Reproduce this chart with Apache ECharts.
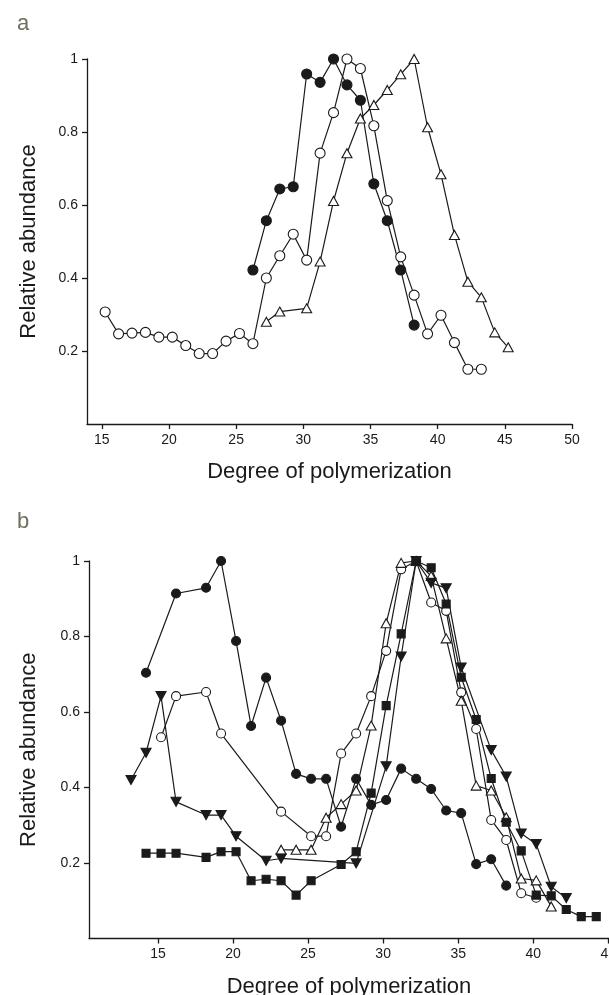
<!DOCTYPE html>
<html>
<head>
<meta charset="utf-8">
<script src="https://cdn.jsdelivr.net/npm/echarts@6/dist/echarts.min.js"></script>
<style>
  html, body { margin: 0; padding: 0; background: #fff; }
  #chart { width: 609px; height: 995px; }
</style>
</head>
<body>
<div id="chart"></div>
<script>
// panel a: [degree of polymerization, relative abundance]
const aOpenCircle = [[15.25,0.307],[16.25,0.247],[17.25,0.249],[18.25,0.251],[19.25,0.238],[20.25,0.238],[21.25,0.215],[22.25,0.193],[23.25,0.193],[24.25,0.227],[25.25,0.248],[26.25,0.22],[27.25,0.40],[28.25,0.461],[29.25,0.52],[30.25,0.449],[31.25,0.742],[32.25,0.853],[33.25,1.0],[34.25,0.974],[35.25,0.817],[36.25,0.612],[37.25,0.458],[38.25,0.353],[39.25,0.247],[40.25,0.298],[41.25,0.223],[42.25,0.15],[43.25,0.15]]
const aFilledCircle = [[26.25,0.422],[27.25,0.557],[28.25,0.644],[29.25,0.65],[30.25,0.959],[31.25,0.936],[32.25,1.0],[33.25,0.929],[34.25,0.887],[35.25,0.658],[36.25,0.557],[37.25,0.422],[38.25,0.271]]
const aTriangle = [[27.25,0.28],[28.25,0.308],[30.25,0.317],[31.25,0.445],[32.25,0.611],[33.25,0.742],[34.25,0.837],[35.25,0.874],[36.25,0.915],[37.25,0.958],[38.25,1.0],[39.25,0.813],[40.25,0.684],[41.25,0.518],[42.25,0.39],[43.25,0.347],[44.25,0.251],[45.25,0.21]]

// panel b
const bFilledCircle = [[14.2,0.704],[16.2,0.914],[18.2,0.929],[19.2,1.0],[20.2,0.788],[21.2,0.563],[22.2,0.691],[23.2,0.577],[24.2,0.436],[25.2,0.423],[26.2,0.423],[27.2,0.296],[28.2,0.423],[29.2,0.354],[30.2,0.367],[31.2,0.45],[32.2,0.423],[33.2,0.396],[34.2,0.339],[35.2,0.332],[36.2,0.197],[37.2,0.21],[38.2,0.14]]
const bOpenCircle = [[15.2,0.533],[16.2,0.642],[18.2,0.653],[19.2,0.543],[23.2,0.336],[25.2,0.271],[26.2,0.271],[27.2,0.49],[28.2,0.543],[29.2,0.642],[30.2,0.762],[31.2,0.978],[32.2,1.0],[33.2,0.89],[34.2,0.868],[35.2,0.652],[36.2,0.555],[37.2,0.314],[38.2,0.261],[39.2,0.12],[40.2,0.108]]
const bTriangle = [[23.2,0.235],[24.2,0.235],[25.2,0.235],[26.2,0.32],[27.2,0.356],[28.2,0.392],[29.2,0.564],[30.2,0.835],[31.2,0.995],[32.2,1.0],[33.2,0.96],[34.2,0.795],[35.2,0.63],[36.2,0.405],[37.2,0.392],[38.2,0.321],[39.2,0.159],[40.2,0.154],[41.2,0.085]]
const bSquare = [[14.2,0.226],[15.2,0.226],[16.2,0.226],[18.2,0.215],[19.2,0.23],[20.2,0.23],[21.2,0.153],[22.2,0.157],[23.2,0.153],[24.2,0.115],[25.2,0.153],[27.2,0.196],[28.2,0.23],[29.2,0.385],[30.2,0.617],[31.2,0.807],[32.2,1.0],[33.2,0.982],[34.2,0.886],[35.2,0.692],[36.2,0.58],[37.2,0.424],[38.2,0.308],[39.2,0.232],[40.2,0.115],[41.2,0.113],[42.2,0.077],[43.2,0.058],[44.2,0.058]]
const bDownTriangle = [[13.2,0.42],[14.2,0.492],[15.2,0.642],[16.2,0.362],[18.2,0.327],[19.2,0.327],[20.2,0.271],[22.2,0.206],[23.2,0.212],[28.2,0.199],[30.2,0.456],[31.2,0.747],[32.2,1.0],[33.2,0.942],[34.2,0.928],[35.2,0.718],[37.2,0.499],[38.2,0.429],[39.2,0.278],[40.2,0.25],[41.2,0.137],[42.2,0.107]]

// tick labels
const aXTicks = [15, 20, 25, 30, 35, 40, 45, 50]
const bXTicks = [15, 20, 25, 30, 35, 40, 45]
const yTicks = [0.2, 0.4, 0.6, 0.8, 1]

const font = 'Liberation Sans, Arial, sans-serif'
const ink = '#1a1a1a'

function xAxis(idx, min, max, ticks) {
  return {
    type: 'value',
    gridIndex: idx,
    min: min,
    max: max,
    name: 'Degree of polymerization',
    nameLocation: 'middle',
    nameGap: 37,
    nameTextStyle: { fontFamily: font, fontSize: 22, color: ink },
    axisLine: { lineStyle: { color: ink, width: 1.3 } },
    axisTick: { customValues: ticks, length: 5, lineStyle: { color: ink, width: 1.3 } },
    axisLabel: { customValues: ticks, margin: 9, fontFamily: font, fontSize: 14, color: ink },
    splitLine: { show: false }
  }
}

function yAxis(idx, gap) {
  return {
    type: 'value',
    gridIndex: idx,
    min: 0,
    max: 1,
    name: 'Relative abundance',
    nameLocation: 'middle',
    nameGap: gap,
    nameTextStyle: { fontFamily: font, fontSize: 22, color: ink },
    axisLine: { lineStyle: { color: ink, width: 1.3 } },
    axisTick: { customValues: yTicks, length: 5, lineStyle: { color: ink, width: 1.3 } },
    axisLabel: {
      customValues: yTicks,
      margin: 9,
      fontFamily: font,
      fontSize: 14,
      color: ink,
      formatter: v => (v === 1 ? '1' : v.toFixed(1))
    },
    splitLine: { show: false }
  }
}

function line(idx, data, symbol, filled, size, rotate) {
  return {
    type: 'line',
    xAxisIndex: idx,
    yAxisIndex: idx,
    data: data,
    symbol: symbol,
    symbolSize: size,
    symbolRotate: rotate || 0,
    showAllSymbol: true,
    animation: false,
    lineStyle: { color: ink, width: 1.2 },
    itemStyle: { color: filled ? ink : '#fff', borderColor: ink, borderWidth: 1.1 }
  }
}

const chart = echarts.init(document.getElementById('chart'), null, { renderer: 'canvas' })
chart.setOption({
  backgroundColor: '#fff',
  title: [
    { text: 'a', left: 12, top: 8, textStyle: { fontFamily: font, fontSize: 22, fontWeight: 'normal', color: '#6e705c' } },
    { text: 'b', left: 12, top: 506, textStyle: { fontFamily: font, fontSize: 22, fontWeight: 'normal', color: '#6e705c' } }
  ],
  grid: [
    { left: 87, top: 59, width: 485, height: 365, outerBoundsMode: 'none' },
    { left: 89, top: 561, width: 520, height: 377.5, outerBoundsMode: 'none' }
  ],
  xAxis: [xAxis(0, 13.9, 50, aXTicks), xAxis(1, 10.4, 45.05, bXTicks)],
  yAxis: [yAxis(0, 47), yAxis(1, 49)],
  series: [
    line(0, aOpenCircle, 'circle', false, 10),
    line(0, aTriangle, 'triangle', false, [10, 9]),
    line(0, aFilledCircle, 'circle', true, 10),
    line(1, bOpenCircle, 'circle', false, 9),
    line(1, bTriangle, 'triangle', false, [10, 9]),
    line(1, bSquare, 'rect', true, 8),
    line(1, bDownTriangle, 'triangle', true, [10, 9], 180),
    line(1, bFilledCircle, 'circle', true, 9)
  ]
})
</script>
</body>
</html>
